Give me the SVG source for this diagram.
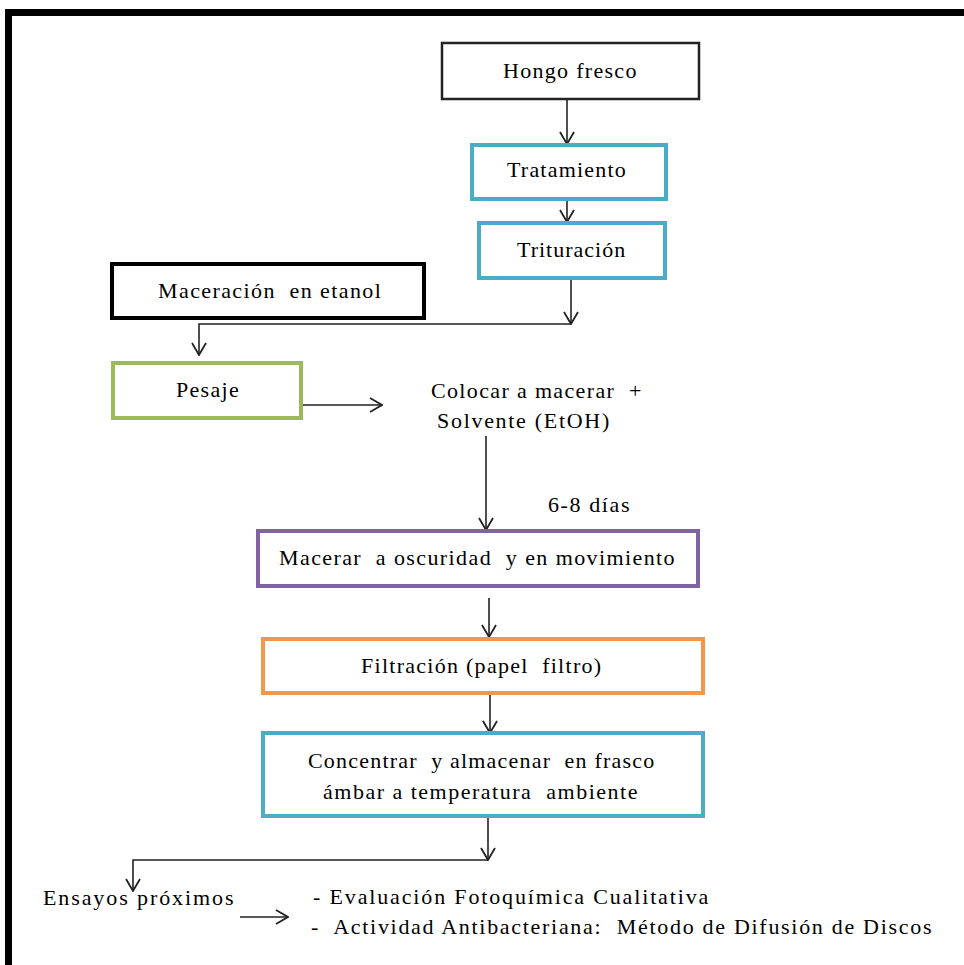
<svg xmlns="http://www.w3.org/2000/svg" width="964" height="965" viewBox="0 0 964 965">
<defs>
<marker id="ah" viewBox="0 0 14 16" refX="13" refY="8" markerWidth="14" markerHeight="16" markerUnits="userSpaceOnUse" orient="auto">
<polyline points="1,1 13,8 1,15" fill="none" stroke="#222" stroke-width="1.8"/>
</marker>
</defs>
<rect width="964" height="965" fill="#fff"/>
<path d="M8.5,965 V12.5 H964" fill="none" stroke="#000" stroke-width="7"/>
<g id="connectors" fill="none" stroke="#222" stroke-width="1.6">
<line x1="567" y1="99" x2="567" y2="144" marker-end="url(#ah)"/>
<line x1="567" y1="199" x2="567" y2="222" marker-end="url(#ah)"/>
<line x1="571" y1="278" x2="571" y2="324" marker-end="url(#ah)"/>
<polyline points="571,324 199,324 199,355" marker-end="url(#ah)"/>
<line x1="301" y1="405" x2="382" y2="405" marker-end="url(#ah)"/>
<line x1="486" y1="436" x2="486" y2="530" marker-end="url(#ah)"/>
<line x1="489" y1="598" x2="489" y2="637" marker-end="url(#ah)"/>
<line x1="490" y1="693" x2="490" y2="733" marker-end="url(#ah)"/>
<line x1="488" y1="816" x2="488" y2="860" marker-end="url(#ah)"/>
<polyline points="488,860 133,860 133,891" marker-end="url(#ah)"/>
<line x1="240" y1="917" x2="288" y2="917" marker-end="url(#ah)"/>
</g>
<g id="hongo"><rect fill="#fff" x="442" y="43" width="257" height="56" stroke="#222" stroke-width="2.5"/><text font-family="Liberation Serif" font-size="22" x="503" y="78" letter-spacing="1.3">Hongo fresco</text></g>
<g id="tratamiento"><rect fill="#fff" x="472" y="145" width="194" height="54" stroke="#4bacc6" stroke-width="4"/><text font-family="Liberation Serif" font-size="22" x="507" y="177" letter-spacing="1.2">Tratamiento</text></g>
<g id="trituracion"><rect fill="#fff" x="479" y="223" width="186" height="55" stroke="#4bacc6" stroke-width="4"/><text font-family="Liberation Serif" font-size="22" x="517" y="257" letter-spacing="1">Trituración</text></g>
<g id="maceracion"><rect fill="#fff" x="112" y="264" width="312" height="54" stroke="#000" stroke-width="4"/><text font-family="Liberation Serif" font-size="22" x="158" y="298" letter-spacing="1.4" xml:space="preserve">Maceración  en etanol</text></g>
<g id="pesaje"><rect fill="#fff" x="113" y="363" width="188" height="55" stroke="#9bbb59" stroke-width="4"/><text font-family="Liberation Serif" font-size="22" x="176" y="397" letter-spacing="1.3">Pesaje</text></g>
<g id="colocar"><text font-family="Liberation Serif" font-size="22" x="431" y="398" letter-spacing="1.35" xml:space="preserve">Colocar a macerar  +</text><text font-family="Liberation Serif" font-size="22" x="437" y="428" letter-spacing="1.7">Solvente (EtOH)</text></g>
<g id="dias"><text font-family="Liberation Serif" font-size="22" x="548" y="512" letter-spacing="1.6">6-8 días</text></g>
<g id="macerar"><rect fill="#fff" x="258" y="531" width="440" height="55" stroke="#8064a2" stroke-width="4"/><text font-family="Liberation Serif" font-size="22" x="279" y="565" letter-spacing="1.4" xml:space="preserve">Macerar  a oscuridad  y en movimiento</text></g>
<g id="filtracion"><rect fill="#fff" x="263" y="639" width="440" height="54" stroke="#f79646" stroke-width="4"/><text font-family="Liberation Serif" font-size="22" x="361" y="673" letter-spacing="1.27" xml:space="preserve">Filtración (papel  filtro)</text></g>
<g id="concentrar"><rect fill="#fff" x="263" y="733" width="440" height="83" stroke="#4bacc6" stroke-width="4"/><text font-family="Liberation Serif" font-size="22" x="308" y="768" letter-spacing="1.2" xml:space="preserve">Concentrar  y almacenar  en frasco</text><text font-family="Liberation Serif" font-size="22" x="323" y="799" letter-spacing="1.5" xml:space="preserve">ámbar a temperatura  ambiente</text></g>
<g id="ensayos"><text font-family="Liberation Serif" font-size="22" x="43" y="905" letter-spacing="1.9">Ensayos próximos</text></g>
<g id="resultados"><text font-family="Liberation Serif" font-size="22" x="313" y="904" letter-spacing="1.85">- Evaluación Fotoquímica Cualitativa</text><text font-family="Liberation Serif" font-size="22" x="311" y="934" letter-spacing="1.7" xml:space="preserve">-  Actividad Antibacteriana:  Método de Difusión de Discos</text></g>
</svg>
